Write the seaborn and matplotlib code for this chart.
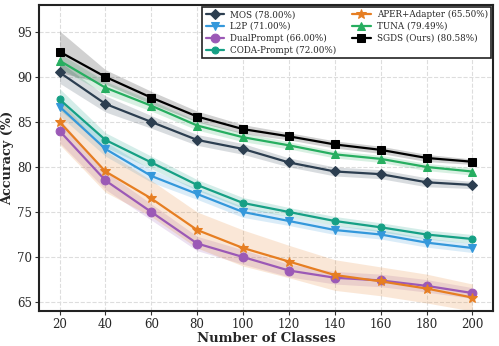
import matplotlib
matplotlib.use("Agg")
import matplotlib.pyplot as plt
import numpy as np
import pandas as pd
import seaborn as sns

classes = [20, 40, 60, 80, 100, 120, 140, 160, 180, 200]

methods = ["MOS (78.00%)", "L2P (71.00%)", "DualPrompt (66.00%)", "CODA-Prompt (72.00%)",
           "APER+Adapter (65.50%)", "TUNA (79.49%)", "SGDS (Ours) (80.58%)"]

mos = [90.5, 87.0, 85.0, 83.0, 82.0, 80.5, 79.5, 79.2, 78.3, 78.0]
l2p = [86.7, 82.0, 79.0, 77.0, 75.0, 74.0, 73.0, 72.5, 71.6, 71.0]
dual = [84.0, 78.5, 75.0, 71.5, 70.0, 68.5, 67.7, 67.4, 66.8, 66.0]
coda = [87.5, 83.0, 80.5, 78.0, 76.0, 75.0, 74.0, 73.3, 72.5, 72.0]
aper = [85.0, 79.5, 76.5, 73.0, 71.0, 69.5, 68.0, 67.3, 66.5, 65.5]
tuna = [91.8, 88.8, 86.8, 84.6, 83.3, 82.4, 81.4, 80.9, 80.0, 79.49]
sgds = [92.8, 90.0, 87.7, 85.6, 84.2, 83.4, 82.5, 81.9, 81.0, 80.58]

mos_std = [1.2, 0.9, 0.7, 0.6, 0.6, 0.5, 0.5, 0.5, 0.5, 0.4]
l2p_std = [1.0, 0.8, 0.7, 0.6, 0.6, 0.5, 0.5, 0.5, 0.5, 0.5]
dual_std = [1.3, 1.0, 0.9, 0.8, 0.8, 0.7, 0.7, 0.7, 0.7, 0.6]
coda_std = [1.2, 0.8, 0.7, 0.6, 0.6, 0.5, 0.5, 0.5, 0.5, 0.5]
aper_std = [2.5, 2.3, 2.0, 2.0, 2.0, 1.8, 1.7, 1.6, 1.6, 1.5]
tuna_std = [0.8, 0.7, 0.6, 0.5, 0.5, 0.4, 0.4, 0.4, 0.4, 0.4]
sgds_std = [2.3, 0.8, 0.7, 0.6, 0.5, 0.4, 0.4, 0.4, 0.4, 0.3]

means = [mos, l2p, dual, coda, aper, tuna, sgds]
stds = [mos_std, l2p_std, dual_std, coda_std, aper_std, tuna_std, sgds_std]
colors = ["#2c3e50", "#3498db", "#9b59b6", "#16a085", "#e67e22", "#27ae60", "#000000"]
markers = ["D", "v", "o", "o", "*", "^", "s"]
msizes = [5.3, 5.8, 6.3, 5.0, 7, 5.8, 5.8]

sns.set_style("whitegrid")
plt.rcParams["font.family"] = ["DejaVu Serif"]

fig = plt.figure(figsize=(4.99, 3.46), dpi=100)
ax = fig.add_axes([0.078, 0.101, 0.91, 0.885])

for name, m, s, c, mk, ms in zip(methods, means, stds, colors, markers, msizes):
    df = pd.DataFrame({"classes": classes, "acc": m})
    lo = np.array(m) - np.array(s)
    hi = np.array(m) + np.array(s)
    ax.fill_between(classes, lo, hi, color=c, alpha=0.18, linewidth=0)
    sns.lineplot(data=df, x="classes", y="acc", ax=ax, color=c, marker=mk,
                 markersize=ms, linewidth=1.6, label=name, markeredgecolor=c)

ax.set_xlim(11, 209)
ax.set_ylim(64, 98)
ax.set_xticks(classes)
ax.set_yticks([65, 70, 75, 80, 85, 90, 95])
ax.tick_params(labelsize=8.5, length=3, color="#333333", left=True, bottom=True, pad=2)
ax.grid(True, linestyle="--", color="#dddddd", linewidth=0.8)
for sp in ax.spines.values():
    sp.set_color("#222222")
    sp.set_linewidth(1.5)
ax.set_xlabel("Number of Classes", fontsize=9.5, fontweight="bold", labelpad=1)
ax.set_ylabel("Accuracy (%)", fontsize=9.3, fontweight="bold", labelpad=2)

leg = ax.legend(loc="upper right", ncol=2, fontsize=6.3, frameon=True, fancybox=False,
                edgecolor="#222222", framealpha=1, handlelength=2.1, handletextpad=0.7,
                columnspacing=1.8, labelspacing=0.32, borderpad=0.4, borderaxespad=0.2)
leg.get_frame().set_linewidth(1.2)

fig.savefig("out.png", dpi=100)
